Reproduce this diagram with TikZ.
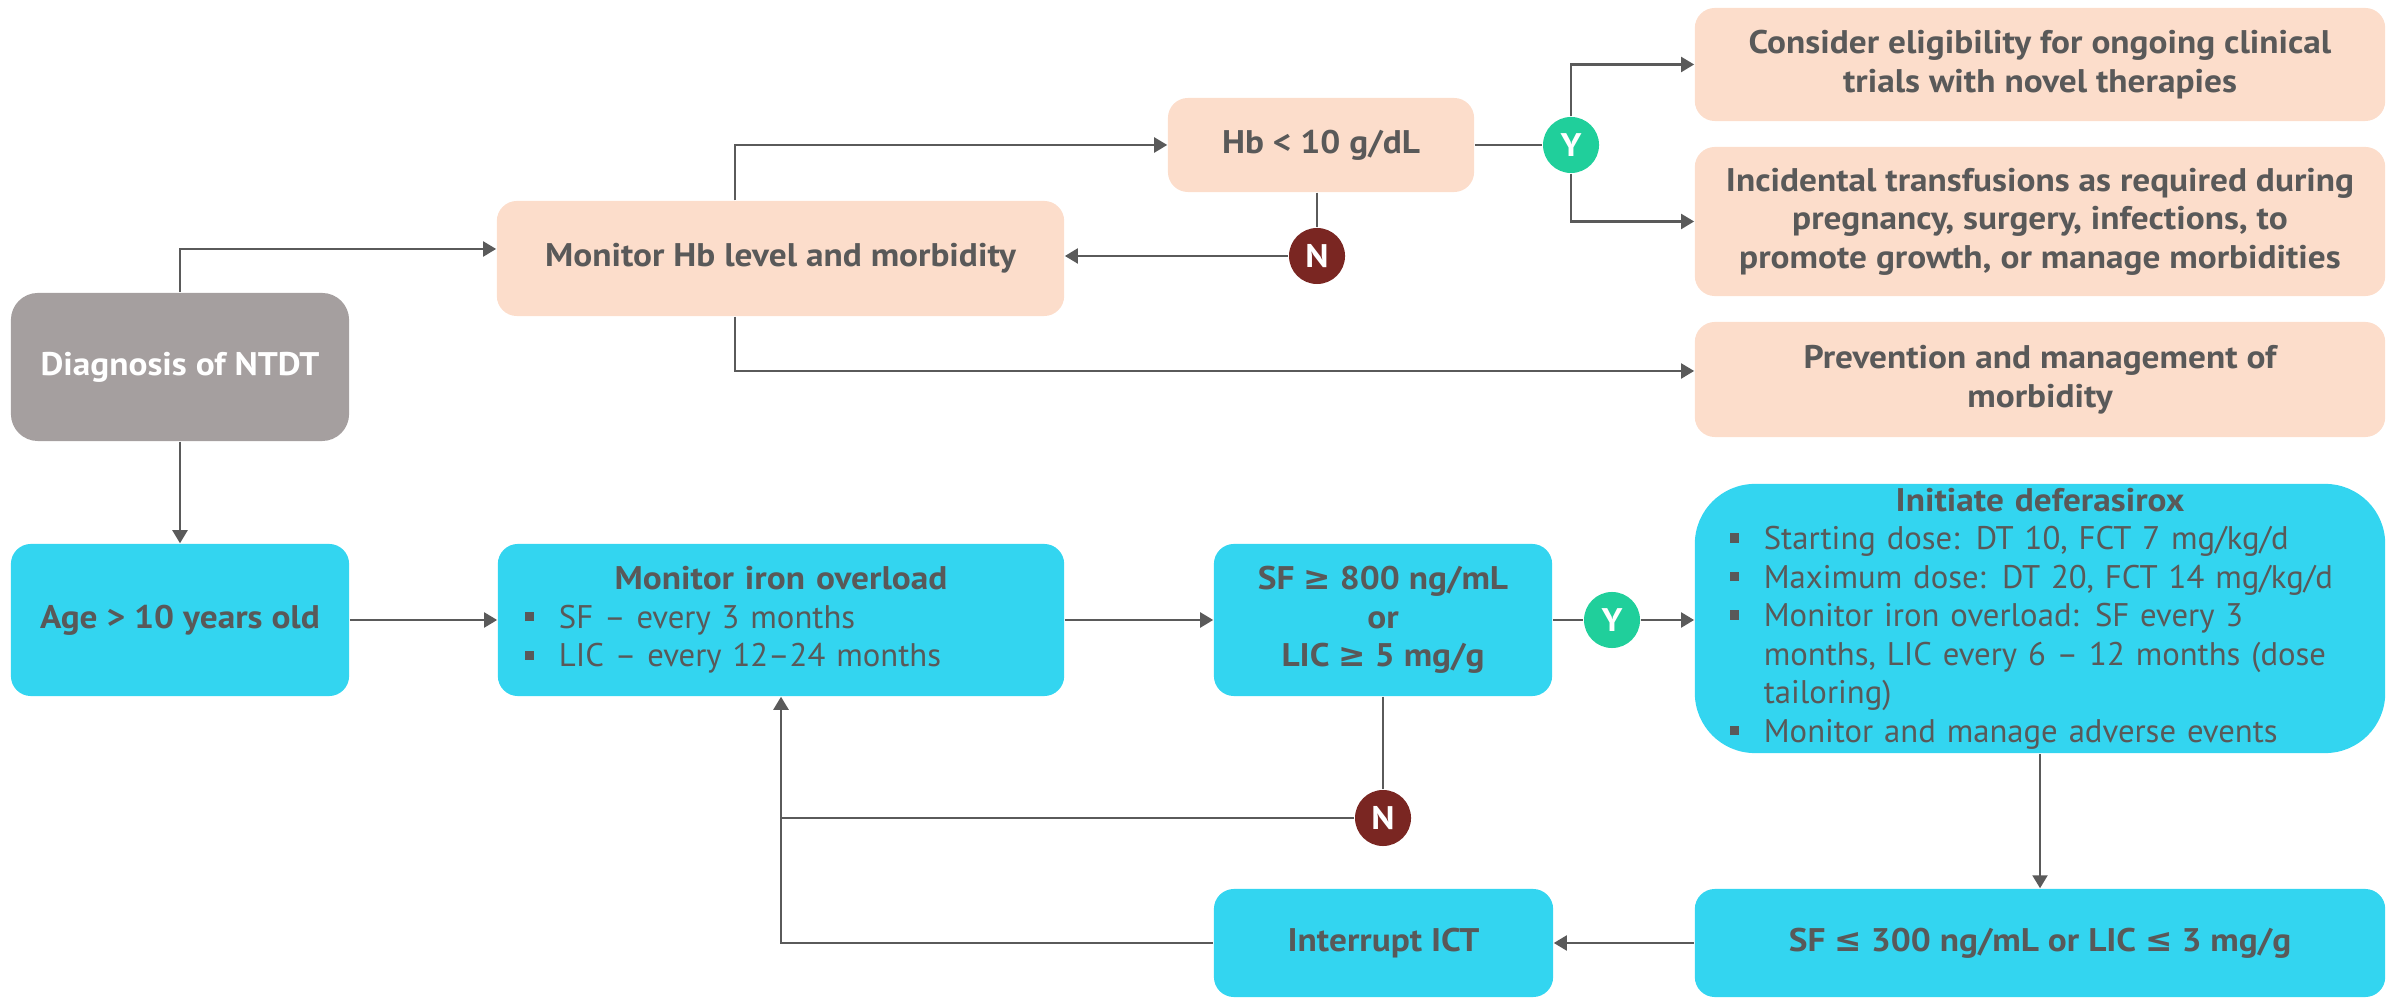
\documentclass[tikz,border=0pt]{standalone}
\usepackage{fontspec}
\setmainfont{PT Sans}[BoldFeatures={FakeStretch=1.08}]
\newfontfamily\symf{DejaVu Sans}
\usetikzlibrary{arrows.meta}
\definecolor{txt}{HTML}{595959}
\definecolor{lc}{HTML}{5A5A5A}
\definecolor{peach}{HTML}{FCDDCB}
\definecolor{cyanc}{HTML}{33D5F0}
\definecolor{grayb}{HTML}{A59F9F}
\definecolor{ygreen}{HTML}{20CF9B}
\definecolor{nred}{HTML}{7A2622}
\newcommand\fs{\fontsize{9.3pt}{10.95pt}\selectfont}
\newcommand\sqb{\raisebox{2pt}{\rule{2.6pt}{2.6pt}}}
\newcommand\bl[1]{\par\noindent\makebox[0.34cm][l]{\sqb}\mbox{#1}}
\newcommand\cl[1]{\par\noindent\hspace*{0.34cm}\mbox{#1}}
\begin{document}
\begin{tikzpicture}[x=0.01cm,y=-0.01cm,
  base/.style={rounded corners=0.2cm, inner sep=0pt, text=txt, font=\fs\bfseries},
  peach/.style={base, fill=peach, align=center},
  cyanb/.style={base, fill=cyanc, align=center},
  cyanl/.style={base, fill=cyanc},
  badge/.style={circle, minimum size=0.56cm, inner sep=0pt, text=white, font=\fs\bfseries},
  ybadge/.style={badge, fill=ygreen},
  nbadge/.style={badge, fill=nred},
  conn/.style={draw=lc, line width=0.62pt},
  arr/.style={conn, -{Triangle[length=0.13cm,width=0.15cm]}},
]
\useasboundingbox (0,0) rectangle (2395,1001);

% top part
\node[base, align=center, fill=grayb, text=white, rounded corners=0.27cm, minimum width=3.38cm, minimum height=1.48cm] (diag) at (180,367) {Diagnosis of NTDT};
\node[peach, minimum width=5.67cm, minimum height=1.15cm] (monhb) at (780.5,258.5) {Monitor Hb level and morbidity};
\node[peach, minimum width=3.06cm, minimum height=0.94cm] (hb) at (1321,145) {Hb < 10 g/dL};
\node[peach, minimum width=6.9cm, minimum height=1.13cm] (cons) at (2040,64.5) {Consider eligibility for ongoing clinical\\trials with novel therapies};
\node[peach, minimum width=6.9cm, minimum height=1.49cm] (inc) at (2040,221.5) {Incidental transfusions as required during\\pregnancy, surgery, infections, to\\promote growth, or manage morbidities};
\node[peach, minimum width=6.9cm, minimum height=1.15cm] (prev) at (2040,379.5) {Prevention and management of\\morbidity};
\node[ybadge] (y1) at (1571,145) {Y};
\node[nbadge] (n1) at (1317,256) {N};

% bottom part
\node[cyanb, minimum width=3.38cm, minimum height=1.52cm] (age) at (180,620) {Age > 10 years old};
\node[cyanl, minimum width=5.66cm, minimum height=1.52cm, text width=5.12cm] (moniron) at (781,620)
  {\centering Monitor iron overload\par\raggedright\mdseries
   \bl{SF – every 3 months}
   \bl{LIC – every 12–24 months}};
\node[cyanb, minimum width=3.38cm, minimum height=1.52cm] (sf800) at (1383,620) {SF {\symf ≥} 800 ng/mL\\or\\LIC {\symf ≥} 5 mg/g};
\node[ybadge] (y2) at (1612,620) {Y};
\node[cyanl, rounded corners=0.6cm, minimum width=6.9cm, minimum height=2.69cm, text width=6.2cm] (init) at (2040,618.5)
  {\centering Initiate deferasirox\par\raggedright\mdseries
   \bl{Starting dose: DT 10, FCT 7 mg/kg/d}
   \bl{Maximum dose: DT 20, FCT 14 mg/kg/d}
   \bl{Monitor iron overload: SF every 3}
   \cl{months, LIC every 6 – 12 months (dose}
   \cl{tailoring)}
   \bl{Monitor and manage adverse events}};
\node[nbadge] (n2) at (1383,818) {N};
\node[cyanb, minimum width=6.9cm, minimum height=1.08cm] (sf300) at (2040,943) {SF {\symf ≤} 300 ng/mL or LIC {\symf ≤} 3 mg/g};
\node[cyanb, minimum width=3.39cm, minimum height=1.08cm] (ict) at (1383.5,943) {Interrupt ICT};

% connectors top
\draw[arr] (diag.north) |- ([yshift=0.095cm]monhb.west);
\draw[arr] ([xshift=-0.455cm]monhb.north) |- (hb.west);
\draw[arr] ([xshift=-0.455cm]monhb.south) |- ([yshift=0.085cm]prev.west);
\draw[conn] (hb.east) -- (y1);
\draw[arr] (y1.north) |- (cons.west);
\draw[arr] (y1.south) |- (inc.west);
\draw[conn] (n1 |- hb.south) -- (n1);
\draw[arr] (n1) -- (monhb.east |- n1);

% connectors bottom
\draw[arr] (diag.south) -- (age.north);
\draw[arr] (age.east) -- (moniron.west);
\draw[arr] (moniron.east) -- (sf800.west);
\draw[conn] (sf800.east) -- (y2);
\draw[arr] (y2) -- (init.west |- y2);
\draw[conn] (sf800.south) -- (n2);
\draw[conn] (n2) -- (moniron.south |- n2);
\draw[arr] (init.south) -- (sf300.north);
\draw[arr] (sf300.west) -- (ict.east);
\draw[arr] (ict.west) -| (moniron.south);
\end{tikzpicture}
\end{document}
